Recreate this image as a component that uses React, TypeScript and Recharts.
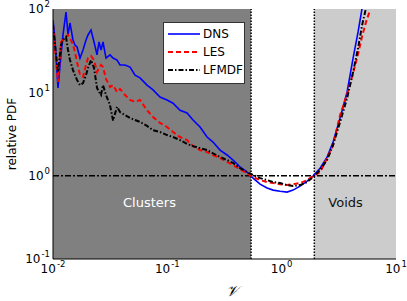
import { Legend, Line, LineChart, ReferenceArea, ReferenceLine, XAxis, YAxis } from "recharts";

// volume ratio V (x axis)
const vGrid = [
  0.01, 0.01041, 0.01106, 0.01175, 0.01223, 0.013, 0.01353, 0.01408, 0.01496, 0.01557, 0.01622, 0.01723,
  0.0183, 0.01944, 0.02024, 0.0215, 0.02285, 0.02427, 0.02526, 0.0263, 0.02737, 0.02908, 0.03152, 0.0335,
  0.0363, 0.03857, 0.04266, 0.04718, 0.0522, 0.0577, 0.0664, 0.075, 0.0863, 0.0994, 0.1122, 0.1291, 0.1487,
  0.1678, 0.1932, 0.2225, 0.251, 0.2891, 0.333, 0.3757, 0.4325, 0.4982, 0.5621, 0.6473, 0.7455, 0.8412,
  0.9683, 1.115, 1.258, 1.449, 1.668, 1.882, 2.168, 2.496, 2.816, 3.244, 3.735, 4.214, 4.66, 5.05, 5.47, 5.93,
];

const dnsPdf = [
  73.8, 42.5, 11.3, 28.1, 48.8, 92.0, 48.8, 67.9, 42.5, 37.0, 35.0, 25.8, 32.2, 42.5, 48.8, 56.0, 40.2, 28.1,
  40.2, 32.2, 40.2, 25.8, 28.1, 25.8, 24.4, 21.3, 21.3, 20.1, 16.1, 14.9, 12.2, 10.7, 8.8, 8.1, 7.4, 6.1, 5.65,
  4.66, 3.84, 2.91, 2.53, 2.03, 1.77, 1.54, 1.27, 1.1, 0.935, 0.79, 0.71, 0.671, 0.65, 0.635, 0.671, 0.75,
  0.86, 0.99, 1.23, 1.67, 2.53, 4.92, 10.1, 25.8, 53, 102, null, null,
];

const lesPdf = [
  64.3, 32.2, 13.3, 40.2, 42.5, 46.1, 48.8, 44.9, 37.0, 30.5, 23.1, 16.1, 15.3, 21.3, 25.8, 27.3, 24.4, 17.5,
  19.6, 21.3, 20.1, 14.5, 11.6, 12.2, 10.1, 11.0, 9.3, 8.1, 7.7, 8.1, 6.1, 5.06, 4.29, 3.84, 3.34, 2.91, 2.67,
  2.26, 2.03, 1.92, 1.77, 1.63, 1.46, 1.34, 1.2, 1.07, 0.96, 0.885, 0.838, 0.815, 0.79, 0.771, 0.79, 0.815,
  0.885, 0.99, 1.1, 1.63, 2.33, 5.35, 9.5, 17, 29, 47, 70, 97,
];

const lfmdfPdf = [
  64.3, 37.0, 17.5, 37.0, 42.5, 46.1, 32.2, 24.4, 18.5, 16.1, 14.1, 12.2, 12.9, 16.1, 19.6, 24.4, 19.6, 11.3,
  10.1, 9.3, 12.2, 9.3, 7.0, 4.6, 6.7, 5.8, 5.35, 4.92, 4.66, 4.41, 3.95, 3.52, 3.34, 3.07, 2.91, 2.67, 2.4,
  2.26, 2.13, 2.03, 1.85, 1.67, 1.54, 1.42, 1.23, 1.1, 1.02, 0.935, 0.885, 0.838, 0.815, 0.771, 0.75, 0.771,
  0.838, 0.96, 1.17, 1.54, 2.33, 4.41, 8.5, 17.5, 34, 64, 103, null,
];

const xTicks = [0.01, 0.1, 1, 10];
const xTickExps = ["-2", "-1", "0", "1"];
const yTicks = [0.1, 1, 10, 100];
const yTickExps = ["-1", "0", "1", "2"];
const xMinorTicks = [
  0.02, 0.03, 0.04, 0.05, 0.06, 0.07, 0.08, 0.09, 0.2, 0.3, 0.4, 0.5, 0.6, 0.7, 0.8, 0.9, 2, 3, 4, 5, 6, 7, 8, 9,
];
const yMinorTicks = [
  0.2, 0.3, 0.4, 0.5, 0.6, 0.7, 0.8, 0.9, 2, 3, 4, 5, 6, 7, 8, 9, 20, 30, 40, 50, 60, 70, 80, 90,
];

const clusterEdge = 0.54;
const voidEdge = 1.93;

const data = vGrid.map((v, i) => ({ v, dns: dnsPdf[i], les: lesPdf[i], lfmdf: lfmdfPdf[i] }));

const series = [
  { key: "dns", name: "DNS", color: "#0000ff", dash: undefined, width: 1.6 },
  { key: "les", name: "LES", color: "#ff0000", dash: "5 3", width: 2 },
  { key: "lfmdf", name: "LFMDF", color: "#000000", dash: "5 2 1.5 2", width: 2 },
];

const FONT = "DejaVu Sans";

function PowTick(props: any) {
  const { x, y, payload, ticks, exps, anchor } = props;
  const exp = exps[ticks.indexOf(payload.value)];
  const dy = anchor === "middle" ? "0.71em" : "0.35em";
  return (
    <text x={x} y={y} textAnchor={anchor} fontSize={12} fontFamily={FONT} fill="#000">
      <tspan dy={dy}>10</tspan>
      <tspan dy={-6} dx={1} fontSize={8.5}>
        {exp}
      </tspan>
    </text>
  );
}

function YTitle(props: any) {
  const { viewBox } = props;
  const cx = viewBox.x + 12;
  const cy = viewBox.y + viewBox.height / 2;
  return (
    <text x={cx} y={cy} transform={`rotate(-90 ${cx} ${cy})`} textAnchor="middle" dominantBaseline="central" fontSize={12} fontFamily={FONT}>
      relative PDF
    </text>
  );
}

function XTitle(props: any) {
  const { viewBox } = props;
  return (
    <text x={232} y={viewBox.y + 37} textAnchor="middle" fontSize={15} fontFamily={FONT} fontStyle="italic">
      𝒱
    </text>
  );
}

function RegionText(props: any) {
  const { viewBox, text, dx, color } = props;
  return (
    <text x={viewBox.x + dx} y={viewBox.y + viewBox.height - 52} fontSize={13} fontFamily={FONT} fill={color}>
      {text}
    </text>
  );
}

function LegendBox() {
  return (
    <div
      style={{
        width: 82,
        boxSizing: "border-box",
        background: "#fff",
        border: "1px solid #333",
        padding: "2px 1px 4px 4px",
        fontSize: 12,
        lineHeight: "18px",
        fontFamily: FONT,
        color: "#000",
      }}
    >
      {series.map((s) => (
        <div key={s.key} style={{ display: "flex", alignItems: "center", height: 18 }}>
          <svg width={32} height={10}>
            <line x1={0} y1={5} x2={32} y2={5} stroke={s.color} strokeWidth={s.width} strokeDasharray={s.dash} />
          </svg>
          <span style={{ marginLeft: 3 }}>{s.name}</span>
        </div>
      ))}
    </div>
  );
}

const logX = { type: "number" as const, scale: "log" as const, domain: [0.01, 10], allowDataOverflow: true };
const logY = { type: "number" as const, scale: "log" as const, domain: [0.1, 100], allowDataOverflow: true };

export default function App() {
  return (
    <div style={{ position: "absolute", left: 0, top: 0, width: 407, height: 301, background: "#fff", fontFamily: FONT }}>
      <LineChart width={407} height={301} data={data} margin={{ top: 9, right: 11, bottom: 0, left: 0 }}>
        <XAxis
          {...logX}
          dataKey="v"
          ticks={xTicks}
          height={42}
          tickSize={0}
          tickMargin={5}
          tickLine={false}
          axisLine={{ stroke: "#000" }}
          tick={<PowTick ticks={xTicks} exps={xTickExps} anchor="middle" />}
          label={<XTitle />}
        />
        <XAxis {...logX} xAxisId="bMaj" orientation="bottom" mirror height={0} ticks={xTicks} tickSize={6} tick={false} axisLine={false} tickLine={{ stroke: "#000" }} />
        <XAxis {...logX} xAxisId="bMin" orientation="bottom" mirror height={0} ticks={xMinorTicks} tickSize={3} tick={false} axisLine={false} tickLine={{ stroke: "#000" }} />
        <XAxis {...logX} xAxisId="tMaj" orientation="top" mirror height={0} ticks={xTicks} tickSize={6} tick={false} axisLine={{ stroke: "#000" }} tickLine={{ stroke: "#000" }} />
        <XAxis {...logX} xAxisId="tMin" orientation="top" mirror height={0} ticks={xMinorTicks} tickSize={3} tick={false} axisLine={false} tickLine={{ stroke: "#000" }} />
        <YAxis
          {...logY}
          ticks={yTicks}
          width={53}
          tickSize={0}
          tickMargin={3}
          tickLine={false}
          axisLine={{ stroke: "#000" }}
          tick={<PowTick ticks={yTicks} exps={yTickExps} anchor="end" />}
          label={<YTitle />}
        />
        <YAxis {...logY} yAxisId="lMaj" orientation="left" mirror width={0} ticks={yTicks} tickSize={6} tick={false} axisLine={false} tickLine={{ stroke: "#000" }} />
        <YAxis {...logY} yAxisId="lMin" orientation="left" mirror width={0} ticks={yMinorTicks} tickSize={3} tick={false} axisLine={false} tickLine={{ stroke: "#000" }} />
        <YAxis {...logY} yAxisId="rMaj" orientation="right" mirror width={0} ticks={yTicks} tickSize={6} tick={false} axisLine={{ stroke: "#000" }} tickLine={{ stroke: "#000" }} />
        <YAxis {...logY} yAxisId="rMin" orientation="right" mirror width={0} ticks={yMinorTicks} tickSize={3} tick={false} axisLine={false} tickLine={{ stroke: "#000" }} />

        <ReferenceArea
          x1={0.01}
          x2={clusterEdge}
          y1={0.1}
          y2={100}
          fill="#808080"
          fillOpacity={1}
          stroke="none"
          label={<RegionText text="Clusters" dx={70} color="#ffffff" />}
        />
        <ReferenceArea
          x1={voidEdge}
          x2={10}
          y1={0.1}
          y2={100}
          fill="#cccccc"
          fillOpacity={1}
          stroke="none"
          label={<RegionText text="Voids" dx={14} color="#111111" />}
        />
        <ReferenceLine x={clusterEdge} stroke="#000" strokeWidth={1.5} strokeDasharray="1.5 1.5" />
        <ReferenceLine x={voidEdge} stroke="#000" strokeWidth={1.5} strokeDasharray="1.5 1.5" />
        <ReferenceLine y={1} stroke="#000" strokeWidth={1.5} strokeDasharray="6 2 2 2" />

        {series.map((s) => (
          <Line
            key={s.key}
            dataKey={s.key}
            name={s.name}
            stroke={s.color}
            strokeWidth={s.width}
            strokeDasharray={s.dash}
            dot={false}
            isAnimationActive={false}
            type="linear"
          />
        ))}
        <Legend
          layout="vertical"
          align="center"
          verticalAlign="middle"
          content={<LegendBox />}
          wrapperStyle={{ left: 163, top: 22, width: 82 }}
        />
      </LineChart>
    </div>
  );
}
